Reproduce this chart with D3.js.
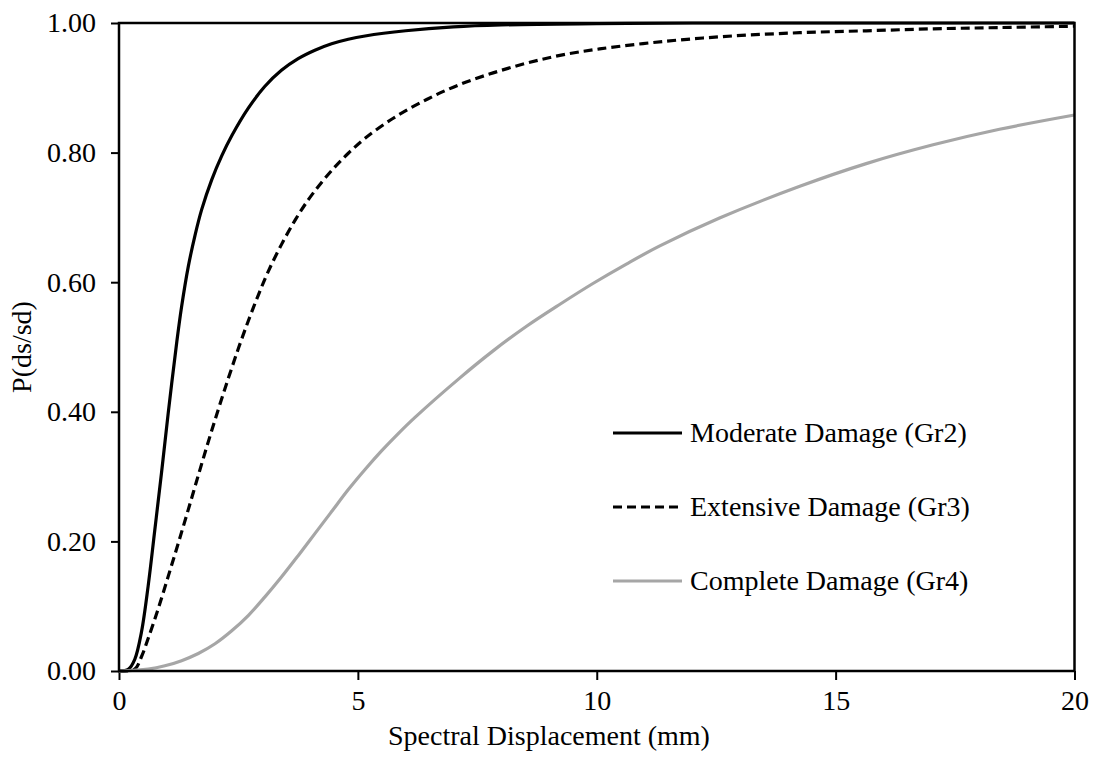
<!DOCTYPE html>
<html>
<head>
<meta charset="utf-8">
<script src="https://cdn.jsdelivr.net/npm/d3@7"></script>
<style>
  html, body { margin: 0; padding: 0; background: #fff; }
  svg { display: block; }
  text { font-family: "Liberation Serif", "Times New Roman", serif; fill: #000; }
</style>
</head>
<body>
<svg id="chart" width="1094" height="770"></svg>
<script>
// Fragility curves: probability of reaching each damage state vs spectral displacement
const seriesNames = ["Moderate Damage (Gr2)", "Extensive Damage (Gr3)", "Complete Damage (Gr4)"];

const sdModerate = [0, 0.2, 0.33, 0.47, 0.61, 0.75, 0.89, 1.03, 1.21, 1.31, 1.45, 1.59, 1.73, 1.94, 2.15, 2.36, 2.71, 3.05, 3.4, 3.75, 4.1, 4.45, 4.8, 5.15, 6, 7, 8, 10, 12, 15, 20];
const pModerate  = [0, 0.003, 0.018, 0.06, 0.131, 0.218, 0.306, 0.398, 0.508, 0.562, 0.624, 0.672, 0.712, 0.758, 0.795, 0.826, 0.869, 0.902, 0.927, 0.945, 0.958, 0.968, 0.975, 0.980, 0.988, 0.994, 0.997, 0.999, 1.0, 1.0, 1.0];

const sdExtensive = [0, 0.33, 0.47, 0.61, 0.82, 1.03, 1.24, 1.45, 1.66, 1.87, 2.08, 2.29, 2.5, 2.71, 2.91, 3.12, 3.4, 3.68, 3.96, 4.24, 4.52, 4.8, 5.15, 5.74, 6.44, 7.13, 7.83, 8.53, 9.23, 10.06, 11.46, 12.85, 14.25, 15.64, 17.04, 18.43, 20];
const pExtensive  = [0, 0.003, 0.022, 0.050, 0.096, 0.146, 0.197, 0.249, 0.302, 0.354, 0.404, 0.452, 0.498, 0.541, 0.579, 0.616, 0.658, 0.695, 0.727, 0.754, 0.778, 0.799, 0.822, 0.853, 0.882, 0.905, 0.923, 0.938, 0.950, 0.960, 0.972, 0.980, 0.985, 0.988, 0.991, 0.993, 0.995];

const sdComplete = [0, 0.61, 0.96, 1.31, 1.66, 2.01, 2.36, 2.71, 3.05, 3.4, 3.75, 4.1, 4.45, 4.8, 5.15, 5.5, 5.84, 6.19, 7.13, 7.83, 8.53, 9.23, 9.92, 10.62, 11.32, 12.57, 14.25, 15.64, 17.04, 18.43, 20];
const pComplete  = [0, 0.003, 0.008, 0.016, 0.027, 0.042, 0.062, 0.086, 0.114, 0.145, 0.178, 0.212, 0.246, 0.280, 0.311, 0.340, 0.366, 0.391, 0.452, 0.494, 0.532, 0.566, 0.598, 0.628, 0.656, 0.699, 0.748, 0.783, 0.812, 0.836, 0.858];

const xTicks = [0, 5, 10, 15, 20];
const yTicks = [0, 0.2, 0.4, 0.6, 0.8, 1.0];

const series = [
  { name: seriesNames[0], sd: sdModerate,  p: pModerate,  color: "#000000", dash: null },
  { name: seriesNames[1], sd: sdExtensive, p: pExtensive, color: "#000000", dash: "9,5" },
  { name: seriesNames[2], sd: sdComplete,  p: pComplete,  color: "#a6a6a6", dash: null }
];

const svg = d3.select("#chart");
const plotLeft = 119, plotRight = 1074.5, plotTop = 23, plotBottom = 671;
const fontSize = 28;

const x = d3.scaleLinear().domain([0, 20]).range([plotLeft, plotRight]);
const y = d3.scaleLinear().domain([0, 1]).range([plotBottom, plotTop]);

// Axes
const xAxis = d3.axisBottom(x).tickValues(xTicks).tickSize(9).tickPadding(5).tickFormat(d3.format("d"));
const yAxis = d3.axisLeft(y).tickValues(yTicks).tickSize(8).tickPadding(15).tickFormat(d3.format(".2f"));

const gx = svg.append("g").attr("transform", `translate(0,${plotBottom})`).call(xAxis);
const gy = svg.append("g").attr("transform", `translate(${plotLeft},0)`).call(yAxis);
[gx, gy].forEach(g => {
  g.select(".domain").remove();
  g.selectAll(".tick line").attr("stroke", "#000").attr("stroke-width", 2);
  g.selectAll(".tick text").style("font-size", fontSize + "px")
    .style("font-family", '"Liberation Serif", "Times New Roman", serif').attr("fill", "#000");
});
gx.selectAll(".tick text").attr("dy", "0.9em");

// Curves
const line = d3.line()
  .x(d => x(d[0]))
  .y(d => y(Math.min(1, d[1])))
  .curve(d3.curveCatmullRom.alpha(0.5));

series.forEach(s => {
  const pts = s.sd.map((v, i) => [v, s.p[i]]);
  svg.append("path")
    .datum(pts)
    .attr("d", line)
    .attr("fill", "none")
    .attr("stroke", s.color)
    .attr("stroke-width", 3.2)
    .attr("stroke-linejoin", "round")
    .attr("stroke-dasharray", s.dash);
});

// Plot frame
svg.append("rect")
  .attr("x", plotLeft).attr("y", plotTop)
  .attr("width", plotRight - plotLeft).attr("height", plotBottom - plotTop)
  .attr("fill", "none").attr("stroke", "#000").attr("stroke-width", 2.5);

// Axis titles
svg.append("text")
  .attr("x", 549).attr("y", 745)
  .attr("text-anchor", "middle")
  .style("font-size", fontSize + "px")
  .text("Spectral Displacement (mm)");

svg.append("text")
  .attr("transform", `translate(31,${(plotTop + plotBottom) / 2}) rotate(-90)`)
  .attr("text-anchor", "middle")
  .style("font-size", fontSize + "px")
  .text("P(ds/sd)");

// Legend
const legend = svg.append("g").attr("transform", "translate(613,433)");
series.forEach((s, i) => {
  const g = legend.append("g").attr("transform", `translate(0,${i * 74})`);
  g.append("line")
    .attr("x1", 0).attr("x2", 69).attr("y1", 0).attr("y2", 0)
    .attr("stroke", s.color).attr("stroke-width", 3.2)
    .attr("stroke-dasharray", s.dash);
  g.append("text")
    .attr("x", 77).attr("y", 0).attr("dy", "0.33em")
    .style("font-size", fontSize + "px")
    .text(s.name);
});
</script>
</body>
</html>
